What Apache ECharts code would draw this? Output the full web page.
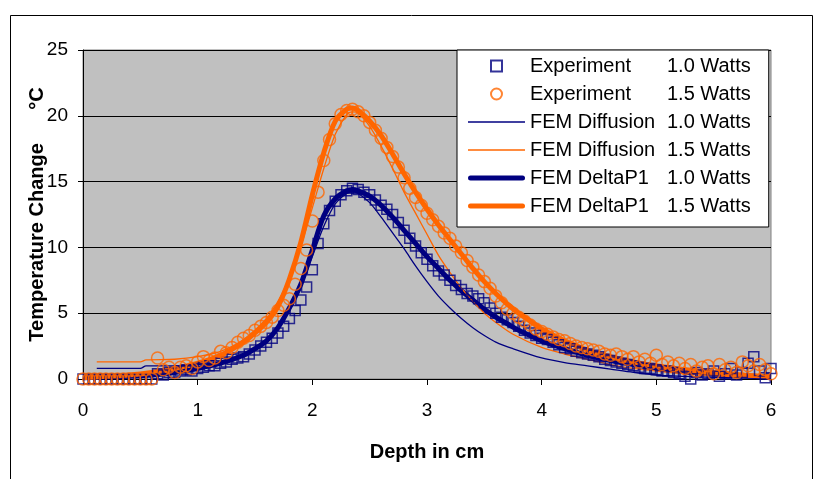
<!DOCTYPE html>
<html><head><meta charset="utf-8">
<script src="https://cdn.jsdelivr.net/npm/echarts@6/dist/echarts.min.js"></script>
<style>html,body{margin:0;padding:0;background:#fff}#c{width:815px;height:479px}</style>
</head><body><div id="c"></div><script>
// ---------- data ----------
var expDepth = [0,0.05,0.1,0.15,0.2,0.25,0.3,0.35,0.4,0.45,0.5,0.55,0.6,
0.65,0.7,0.75,0.8,0.85,0.9,0.95,1.0,1.05,1.1,1.15,1.2,1.25,1.3,1.35,1.4,1.45,1.5,1.55,1.6,1.65,1.7,1.75,1.8,1.85,1.9,1.95,
2.0,2.05,2.1,2.15,2.2,2.25,2.3,2.35,2.4,2.45,2.5,2.55,2.6,2.65,2.7,2.75,2.8,2.85,2.9,2.95,
3.0,3.05,3.1,3.15,3.2,3.25,3.3,3.35,3.4,3.45,3.5,3.55,3.6,3.65,3.7,3.75,3.8,3.85,3.9,3.95,
4.0,4.05,4.1,4.15,4.2,4.25,4.3,4.35,4.4,4.45,4.5,4.55,4.6,4.65,4.7,4.75,4.8,4.85,4.9,4.95,
5.0,5.05,5.1,5.15,5.2,5.25,5.3,5.35,5.4,5.45,5.5,5.55,5.6,5.65,5.7,5.75,5.8,5.85,5.9,5.95,6.0];
var exp10 = [0,0,0,0,0,0,0,0,0,0,0,0,0,
0.4,0.3,0.5,0.5,0.6,0.7,0.6,0.8,0.9,1.0,1.0,1.2,1.3,1.5,1.6,1.7,1.9,2.2,2.5,2.8,3.1,3.5,4.0,4.6,5.2,6.0,7.0,
8.3,10.3,11.8,12.8,13.5,14.0,14.3,14.5,14.4,14.2,14.0,13.6,13.2,12.9,12.5,11.9,11.3,10.7,10.1,9.6,
9.1,8.6,8.2,7.9,7.5,7.1,6.8,6.5,6.3,6.1,5.8,5.4,5.0,4.7,4.5,4.3,4.0,3.7,3.5,3.3,
3.1,3.0,2.8,2.6,2.4,2.3,2.1,2.0,1.9,1.8,1.7,1.5,1.4,1.3,1.2,1.1,1.0,0.9,0.8,0.8,
0.7,0.6,0.6,0.5,0.4,0.2,0.0,0.5,0.3,0.4,0.6,0.2,0.4,0.8,0.3,0.5,1.2,1.7,0.6,0.1,0.8];
var exp15 = [0,0,0,0,0,0,0,0,0,0,0,0,0,
1.6,0.7,0.9,0.5,0.9,1.0,0.8,1.3,1.7,1.4,1.6,2.1,2.0,2.4,2.8,3.1,3.3,3.7,4.0,4.3,4.7,5.2,5.6,6.1,7.2,8.4,9.8,
12.0,14.2,16.6,18.2,19.4,20.1,20.4,20.5,20.3,20.0,19.5,18.9,18.3,17.6,16.9,16.1,15.3,14.5,13.8,13.2,
12.6,12.1,11.6,11.1,10.7,10.1,9.6,9.0,8.5,7.9,7.4,6.9,6.3,5.8,5.3,5.0,4.7,4.4,4.1,3.8,
3.6,3.4,3.2,3.0,2.9,2.7,2.5,2.4,2.3,2.2,2.1,1.9,1.8,1.9,1.7,1.5,1.7,1.3,1.5,1.2,
1.8,1.1,1.3,1.0,1.2,0.8,1.1,0.6,0.9,1.0,0.4,1.1,0.7,0.9,0.5,1.3,1.0,0.6,1.1,0.7,0.4];

var diffDepth = [0.12,0.3,0.5,0.55,0.8,1.0,1.2,1.4,1.6,1.7,1.8,1.9,2.0,2.1,2.2,2.3,2.35,2.4,2.5,2.6,2.7,2.8,2.9,3.0,3.1,3.2,3.3,3.4,3.5,3.6,3.75,4.0,4.2,4.4,4.6,4.8,5.0,5.25,5.5,5.75,6.0];
var diff10 = [0.8,0.8,0.8,1.0,1.0,1.1,1.3,1.9,3.0,3.9,5.2,7.0,9.3,11.6,13.3,14.1,14.2,14.1,13.4,12.3,11.1,9.9,8.6,7.4,6.3,5.4,4.6,3.9,3.3,2.8,2.3,1.6,1.25,1.0,0.75,0.5,0.3,0.2,0.12,0.08,0.05];
var diff15 = [1.3,1.3,1.3,1.45,1.5,1.7,2.1,3.0,4.6,5.9,7.7,10.1,13.0,16.0,18.6,20.1,20.3,20.2,19.2,17.7,16.0,14.2,12.6,11.0,9.4,8.1,6.9,5.9,5.0,4.3,3.4,2.4,1.9,1.5,1.1,0.8,0.6,0.4,0.25,0.15,0.08];

var dpDepth = [0,0.2,0.4,0.6,0.8,1.0,1.2,1.4,1.5,1.6,1.7,1.8,1.9,2.0,2.1,2.2,2.3,2.35,2.4,2.5,2.6,2.7,2.8,2.9,3.0,3.1,3.2,3.3,3.4,3.5,3.6,3.7,3.8,3.9,4.0,4.2,4.4,4.6,4.8,5.0,5.25,5.5,5.75,6.0];
var dp10 = [0.1,0.15,0.2,0.3,0.5,0.8,1.2,1.8,2.3,2.9,3.9,5.4,7.2,9.8,12.4,13.7,14.3,14.4,14.3,13.9,13.2,12.3,11.3,10.3,9.3,8.4,7.5,6.7,6.0,5.3,4.7,4.2,3.7,3.3,2.9,2.3,1.8,1.4,1.1,0.8,0.55,0.4,0.25,0.1];
var dp15 = [0.1,0.2,0.3,0.5,0.8,1.2,1.8,2.8,3.5,4.3,5.5,7.6,10.4,14.0,17.2,19.6,20.5,20.6,20.4,19.6,18.5,17.1,15.6,14.2,12.9,11.7,10.6,9.5,8.4,7.4,6.5,5.7,5.0,4.4,3.8,2.9,2.2,1.7,1.3,1.0,0.7,0.5,0.3,0.15];

var legendLabels = ['Experiment','Experiment','FEM Diffusion','FEM Diffusion','FEM DeltaP1','FEM DeltaP1'];
var legendPowers = ['1.0 Watts','1.5 Watts','1.0 Watts','1.5 Watts','1.0 Watts','1.5 Watts'];
var xTicks = [0,1,2,3,4,5,6];
var yTicks = [0,5,10,15,20,25];

// ---------- chart ----------
var NAVY = '#000080', ORANGE = '#FF6600';
var FONT = "'Liberation Sans', Arial, sans-serif";
function zip(xs, ys){ var r=[]; for (var i=0;i<xs.length;i++) r.push([xs[i], ys[i]]); return r; }
var names = legendLabels.map(function(l,i){ return l + ' ' + legendPowers[i]; });
var icons = [
  'path://M0,0L10,0L10,10L0,10Z',
  'circle',
  'path://M0,0L57,0L57,1.3L0,1.3Z',
  'path://M0,0L57,0L57,1.3L0,1.3Z',
  'path://M2.5,0L54.5,0A2.5,2.5,0,0,1,54.5,5L2.5,5A2.5,2.5,0,0,1,2.5,0Z',
  'path://M2.5,0L54.5,0A2.5,2.5,0,0,1,54.5,5L2.5,5A2.5,2.5,0,0,1,2.5,0Z'
];
var legendData = names.map(function(n, i){
  var item = { name: n, icon: icons[i] };
  if (i >= 2) item.itemStyle = { color: (i % 2 === 0) ? NAVY : ORANGE, borderWidth: 0 };
  return item;
});

var chart = echarts.init(document.getElementById('c'), null, {renderer:'canvas'});
chart.setOption({
  animation: false,
  backgroundColor: '#ffffff',
  textStyle: { fontFamily: FONT },
  graphic: [{
    type: 'rect', z: -10, silent: true,
    shape: { x: 10.5, y: 15.5, width: 802, height: 500 },
    style: { fill: 'none', stroke: '#000', lineWidth: 1 }
  }],
  grid: { left: 83, right: 44, top: 50, bottom: 100, show: true,
          backgroundColor: '#C0C0C0', borderColor: '#808080', borderWidth: 1 },
  legend: {
    left: 457, top: 50, orient: 'vertical',
    backgroundColor: '#fff', borderColor: '#000', borderWidth: 1,
    padding: [6, 18, 11, 11],
    itemWidth: 57, itemHeight: 11, itemGap: 8,
    symbolKeepAspect: true,
    data: legendData,
    formatter: function(n){ var i = names.indexOf(n); return '{a|' + legendLabels[i] + '}{b|' + legendPowers[i] + '}'; },
    textStyle: { fontFamily: FONT, fontSize: 20, color: '#000', lineHeight: 20,
      rich: { a: { width: 137, fontSize: 20, fontFamily: FONT, lineHeight: 20 },
              b: { fontSize: 20, fontFamily: FONT, lineHeight: 20 } } }
  },
  xAxis: {
    type: 'value', min: 0, max: 6, interval: 1,
    name: 'Depth in cm', nameLocation: 'middle', nameGap: 63,
    nameTextStyle: { fontFamily: FONT, fontSize: 20, fontWeight: 'bold', color: '#000' },
    axisLine: { show: true, onZero: false, lineStyle: { color: '#000', width: 1 } },
    axisTick: { show: true, inside: false, length: 6, lineStyle: { color: '#000' } },
    axisLabel: { margin: 22, fontSize: 19, color: '#000', fontFamily: FONT,
      formatter: function(v){ return xTicks.indexOf(v) >= 0 ? String(v) : ''; } },
    splitLine: { show: false }
  },
  yAxis: {
    type: 'value', min: 0, max: 25, interval: 5,
    name: 'Temperature Change      \u00B0C', nameLocation: 'middle', nameGap: 36,
    nameMoveOverlap: false,
    nameTextStyle: { fontFamily: FONT, fontSize: 20, fontWeight: 'bold', color: '#000' },
    axisLine: { show: true, lineStyle: { color: '#000', width: 1 } },
    axisTick: { show: true, inside: false, length: 5, lineStyle: { color: '#000' } },
    axisLabel: { margin: 15, fontSize: 19, color: '#000', fontFamily: FONT,
      formatter: function(v){ return yTicks.indexOf(v) >= 0 ? String(v) : ''; } },
    splitLine: { show: true, lineStyle: { color: '#000', width: 1 } }
  },
  series: [
    { name: names[4], type: 'line', data: zip(dpDepth, dp10), symbol: 'none', showSymbol: false, smooth: 0.3,
      color: NAVY, lineStyle: { color: NAVY, width: 5 }, z: 2 },
    { name: names[5], type: 'line', data: zip(dpDepth, dp15), symbol: 'none', showSymbol: false, smooth: 0.3,
      color: ORANGE, lineStyle: { color: ORANGE, width: 5 }, z: 2 },
    { name: names[2], type: 'line', data: zip(diffDepth, diff10), symbol: 'none', showSymbol: false, smooth: 0.3,
      color: NAVY, lineStyle: { color: NAVY, width: 1.3 }, z: 3 },
    { name: names[3], type: 'line', data: zip(diffDepth, diff15), symbol: 'none', showSymbol: false, smooth: 0.3,
      color: ORANGE, lineStyle: { color: ORANGE, width: 1.3 }, z: 3 },
    { name: names[0], type: 'scatter', data: zip(expDepth, exp10), symbol: 'rect', symbolSize: 10,
      itemStyle: { color: 'rgba(0,0,0,0)', borderColor: NAVY, borderWidth: 1.5 }, z: 4 },
    { name: names[1], type: 'scatter', data: zip(expDepth, exp15), symbol: 'circle', symbolSize: 12,
      itemStyle: { color: 'rgba(0,0,0,0)', borderColor: ORANGE, borderWidth: 1.5 }, z: 5 }
  ]
});
</script></body></html>
